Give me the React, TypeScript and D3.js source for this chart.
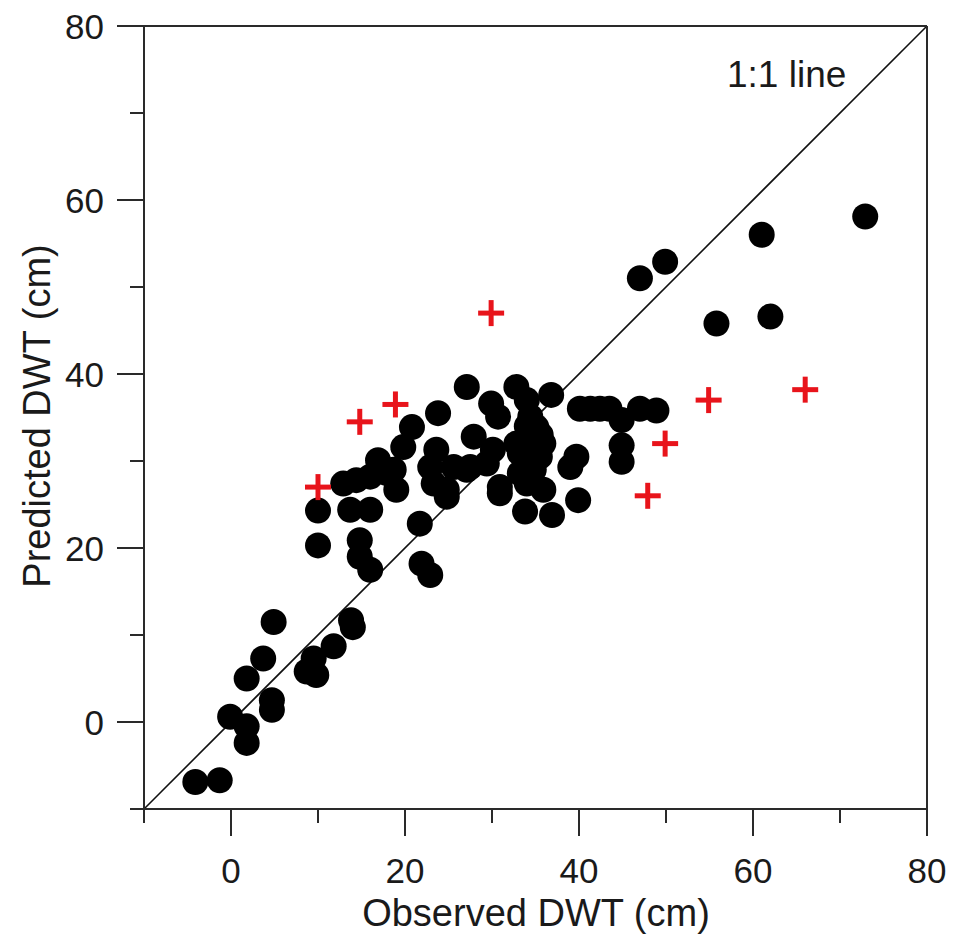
import React from "react";
import * as d3 from "d3";

const observedDots: number[] = [
  -4.1, -1.3, -0.1, 1.8, 1.8, 1.8, 3.7, 4.9, 4.7, 4.7, 8.7, 9.8, 9.5, 11.8, 13.8, 14.0,
  10, 10, 12.9, 14.4, 16, 16.9, 17.9, 19, 19.8, 20.8, 23.8, 13.7, 16, 14.8, 14.8, 16, 21.7, 21.9, 22.9,
  23.6, 22.9, 23.3, 24.8, 25.6, 27.9, 27.1, 18.7,
  27.1, 29.9, 30.7, 32.8, 34, 36.8, 30.1, 27.5, 29.4, 32.8, 35.1, 35.9, 34.4, 33.2, 35.5, 30.9, 30.9,
  34, 35.9, 33.8, 36.9, 39, 39.7, 39.9, 33.2, 34.6, 34.4, 34, 24.8,
  35.2, 34.8, 35.6,
  40.1, 41.3, 42.4, 43.5, 44.9, 47, 48.9, 44.9, 44.9,
  47, 49.9, 61, 72.9, 55.8, 62,
];
const predictedDots: number[] = [
  -6.9, -6.7, 0.6, -0.5, -2.4, 5.0, 7.3, 11.5, 2.5, 1.4, 5.8, 5.4, 7.3, 8.7, 11.7, 10.9,
  24.3, 20.3, 27.4, 27.8, 28.2, 30.1, 28.6, 26.7, 31.6, 33.9, 35.5, 24.4, 24.4, 20.9, 19, 17.5, 22.8, 18.2, 16.9,
  31.3, 29.3, 27.4, 25.9, 29.3, 32.8, 29, 29,
  38.5, 36.6, 35.1, 38.5, 37, 37.6, 31.3, 29.3, 29.7, 32, 33.9, 32, 30.1, 30.9, 30.5, 27, 26.3,
  27.4, 26.7, 24.2, 23.8, 29.3, 30.5, 25.5, 28.6, 32.8, 35.1, 34, 26.7,
  31.5, 29.0, 33.0,
  36, 36, 36, 36, 34.7, 36, 35.8, 31.8, 29.9,
  51, 52.9, 56, 58.1, 45.8, 46.6,
];

const observedCross: number[] = [10, 14.8, 18.9, 29.9, 47.9, 49.9, 54.9, 66];
const predictedCross: number[] = [27, 34.5, 36.5, 47, 26, 32, 37, 38.2];

const tickValues: number[] = [-10, 0, 10, 20, 30, 40, 50, 60, 70, 80];
const labeledTicks: number[] = [0, 20, 40, 60, 80];

const xTitle = "Observed DWT (cm)";
const yTitle = "Predicted DWT (cm)";
const lineLabel = "1:1 line";

export default function App() {
  const W = 953;
  const H = 938;
  const x = d3.scaleLinear().domain([-10, 80]).range([144, 927]);
  const y = d3.scaleLinear().domain([-10, 80]).range([809, 26]);
  const font = "'Liberation Sans', Arial, sans-serif";
  const axisColor = "#2a2a2a";
  const major = 27;
  const minor = 14;
  const isMajor = (v: number) => labeledTicks.includes(v);
  const cross = 13;

  const dots = observedDots.map((o, i) => ({ o, p: predictedDots[i] }));
  const crosses = observedCross.map((o, i) => ({ o, p: predictedCross[i] }));

  const x0 = x(-10), x1 = x(80), y0 = y(-10), y1 = y(80);

  return (
    <svg
      width={W}
      height={H}
      style={{ position: "absolute", left: 0, top: 0, background: "#fff" }}
      fontFamily={font}
    >
      <rect x={0} y={0} width={W} height={H} fill="#fff" />
      <line x1={x(-10)} y1={y(-10)} x2={x(80)} y2={y(80)} stroke="#111" strokeWidth={1.6} />
      {dots.map((d, i) => (
        <circle key={i} cx={x(d.o)} cy={y(d.p)} r={13} fill="#000" />
      ))}
      {crosses.map((d, i) => (
        <g key={i} stroke="#e8141b" strokeWidth={5}>
          <line x1={x(d.o) - cross} x2={x(d.o) + cross} y1={y(d.p)} y2={y(d.p)} />
          <line x1={x(d.o)} x2={x(d.o)} y1={y(d.p) - cross} y2={y(d.p) + cross} />
        </g>
      ))}
      <g stroke={axisColor} strokeWidth={2} fill="none">
        <line x1={x0} y1={y1} x2={x0} y2={y0} />
        <line x1={x0} y1={y0} x2={x1} y2={y0} />
        <line x1={x0} y1={y1} x2={x1} y2={y1} />
        <line x1={x1} y1={y1} x2={x1} y2={y0} />
        {tickValues.map((v) => (
          <line key={"xt" + v} x1={x(v)} x2={x(v)} y1={y0} y2={y0 + (isMajor(v) ? major : minor)} />
        ))}
        {tickValues.map((v) => (
          <line key={"yt" + v} x1={x0} x2={x0 - (isMajor(v) ? major : minor)} y1={y(v)} y2={y(v)} />
        ))}
      </g>
      <g fontSize={35} fill="#1a1a1a">
        {labeledTicks.map((v) => (
          <text key={"xl" + v} x={x(v)} y={883} textAnchor="middle">
            {v}
          </text>
        ))}
        {labeledTicks.map((v) => (
          <text key={"yl" + v} x={104} y={y(v)} dy="0.36em" textAnchor="end">
            {v}
          </text>
        ))}
      </g>
      <text x={536} y={926} textAnchor="middle" fontSize={38} fill="#1a1a1a">
        {xTitle}
      </text>
      <text
        transform={`translate(50, 416) rotate(-90)`}
        textAnchor="middle"
        fontSize={38}
        fill="#1a1a1a"
      >
        {yTitle}
      </text>
      <text x={727} y={87} fontSize={37} fill="#1a1a1a">
        {lineLabel}
      </text>
    </svg>
  );
}
